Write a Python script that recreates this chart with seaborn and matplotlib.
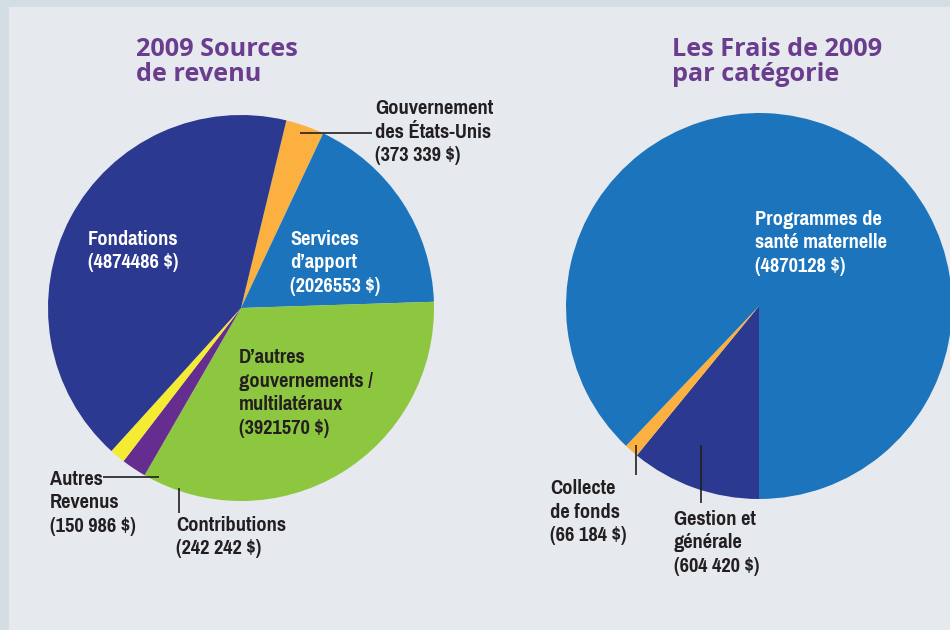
import matplotlib.pyplot as plt
import seaborn as sns
from matplotlib import font_manager
from matplotlib.patches import Rectangle

# Revenue sources 2009 (clockwise from top)
revenue_labels = ["Gouvernement\ndes États-Unis\n(373 339 $)",
                  "Services\nd’apport\n(2026553 $)",
                  "D’autres\ngouvernements /\nmultilatéraux\n(3921570 $)",
                  "Contributions\n(242 242 $)",
                  "Autres\nRevenus\n(150 986 $)",
                  "Fondations\n(4874486 $)"]
revenue_values = [373339, 2026553, 3921570, 242242, 150986, 4874486]
revenue_colors = ["#fbb040", "#1c75bc", "#8dc63f", "#662d91", "#f4eb32", "#2b3990"]

# Expenses 2009 by category (clockwise from bottom)
expense_labels = ["Gestion et\ngénérale\n(604 420 $)",
                  "Collecte\nde fonds\n(66 184 $)",
                  "Programmes de\nsanté maternelle\n(4870128 $)"]
expense_values = [604420, 66184, 4870128]
expense_colors = ["#2b3990", "#fbb040", "#1c75bc"]

titles = ["2009 Sources\nde revenu", "Les Frais de 2009\npar catégorie"]

sns.set_style("white")
plt.rcParams['font.family'] = ['DejaVu Sans']

# look for a narrow bold face among the installed fonts
narrow = None
for f in font_manager.fontManager.ttflist:
    nm = f.name.lower()
    cond = ('narrow' in nm or 'condensed' in nm or
            f.stretch in ('condensed', 'semi-condensed', 'extra-condensed', 'ultra-condensed')
            or (isinstance(f.stretch, int) and f.stretch < 500))
    w = f.weight if isinstance(f.weight, int) else (700 if 'bold' in str(f.weight) else 400)
    if cond and w >= 600 and 'italic' not in f.style and 'oblique' not in f.style:
        if narrow is None or 'narrow' in nm or 'liberation' in nm:
            narrow = f.fname
if narrow:
    lab_font = font_manager.FontProperties(fname=narrow, size=16)
else:
    lab_font = font_manager.FontProperties(family='DejaVu Sans', weight='bold',
                                           stretch='condensed', size=13)

W, H = 950, 630
fig = plt.figure(figsize=(9.5, 6.3), dpi=100, facecolor="#d3dde4")
ax = fig.add_axes([0, 0, 1, 1])
ax.add_patch(Rectangle((9, 0), W - 9, H - 7, color="#e6e9ee", zorder=0))

def py(y):
    # pixel row (from top) -> data y
    return H - y

ax.pie(revenue_values, colors=revenue_colors, startangle=76.4, counterclock=False,
       center=(241, py(308)), radius=193, wedgeprops=dict(linewidth=0))
ax.pie(expense_values, colors=expense_colors, startangle=-90, counterclock=False,
       center=(759, py(306)), radius=193, wedgeprops=dict(linewidth=0))

ax.set_xlim(0, W)
ax.set_ylim(0, H)
ax.set_aspect('equal')
ax.axis('off')

dark = "#231f20"
purple = "#6b3d8e"
lab = dict(fontproperties=lab_font, ha='left', va='center', linespacing=1.33)

# titles
for x, t in zip([136, 672], titles):
    ax.text(x, py(62), t, color=purple, fontsize=18.2, fontweight='bold',
            family='Open Sans', va='center', linespacing=0.98)

# revenue labels: (x, center y, colour)
rev_pos = [(375, 132, dark), (290, 263, "white"), (239, 393, dark),
           (176, 537, dark), (50, 503, dark), (88, 251, "white")]
for text, (x, y, c) in zip(revenue_labels, rev_pos):
    ax.text(x, py(y), text, color=c, **lab)

exp_pos = [(674, 543, dark), (550, 512, dark), (755, 243, "white")]
for text, (x, y, c) in zip(expense_labels, exp_pos):
    ax.text(x, py(y), text, color=c, **lab)

# leader lines
lk = dict(color=dark, lw=1.2, solid_capstyle='butt')
ax.plot([300, 372], [py(133), py(133)], **lk)
ax.plot([103, 159], [py(477), py(477)], **lk)
ax.plot([179, 179], [py(488), py(513)], **lk)
ax.plot([636, 636], [py(445), py(475)], **lk)
ax.plot([701, 701], [py(445), py(503)], **lk)

fig.savefig("out.png", dpi=100, facecolor=fig.get_facecolor())
